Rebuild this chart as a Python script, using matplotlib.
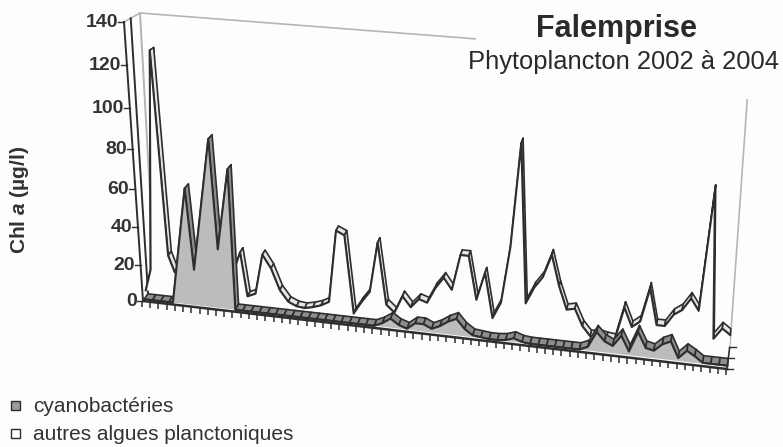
import numpy as np
import matplotlib
matplotlib.use("Agg")
import matplotlib.pyplot as plt
from matplotlib.patches import Polygon, Rectangle

plt.rcParams['font.family'] = ['Liberation Sans', 'DejaVu Sans']
plt.rcParams['mathtext.fontset'] = 'custom'
plt.rcParams['mathtext.bfit'] = 'Liberation Sans:italic:bold'

# valeurs
yticks = [0, 20, 40, 60, 80, 100, 120, 140]

jours_cyano = [0, 1, 2, 3, 3.5, 5.7, 6.3, 8.8, 9.3, 10.9, 11.1, 12, 13, 14, 15, 16, 17, 18, 19, 20,
               21, 22, 23, 24, 25, 26, 27] + list(range(28, 72))
cyano = [0, 0, 0, 0, 0, 62, 19.5, 88, 32, 74, 0, 0, 0, 0, 0, 0, 0, 0, 0, 0,
         0, 0, 0, 0, 0, 0, 0, 0,
         2, 5, 2, 0.5, 4, 4, 2, 4, 7, 9, 4, 1, 0.5, 0, 0, 0.5, 2, 0.5,
         0, 0, 0, 0, 0, 0, 0, 2, 10.5, 6, 4, 10, 2,
         13, 5, 4, 8, 10, 1.5, 6, 3.5, 0.5, 0.5, 0.5, 0.5]

jours_algues = [-0.5, 0.25, 1.7, 2.5, 3.2, 4, 5, 6, 7, 8, 9, 10, 11.3, 12] + list(range(13, 72))
algues = [0, 12, 125, 21, 12, 11, 11, 11, 11, 11, 11, 11, 27, 3, 5, 27, 20, 8.5, 2.5, 0.5, 0,
          1, 2.5, 5, 44, 42, 0, 7, 13, 40, 7, 3, 12.5, 7, 12, 10.5, 19, 25, 19, 38, 38,
          15, 30, 6, 15, 45, 97, 16, 25, 31, 43, 27, 15, 16, 7, 2, 3, 2, 1.5, 19.5, 9.5,
          13, 31, 12, 12, 18.5, 21.5, 28, 22, 83, 8, 14, 11]

NJ = 71.0
# coins du cube en pixels : (jour, valeur, profondeur)
COINS = {(0, 0, 0): (143, 301), (0, 1, 0): (124, 22), (1, 0, 0): (727, 369), (1, 1, 0): (748, 82),
         (0, 0, 1): (155, 283), (0, 1, 1): (140, 13), (1, 0, 1): (730, 345), (1, 1, 1): (750, 60)}


def hauteur(v):
    # perspective : les graduations s'ecartent vers le haut
    v = np.asarray(v, dtype=float)
    return (1.77 * v + 0.00149 * v ** 2) / 277.0


def proj(j, v, d):
    j, v, d = np.broadcast_arrays(np.asarray(j, float) / NJ, hauteur(v), np.asarray(d, float))
    x = 0.0
    y = 0.0
    for (a, b, c), (px, py) in COINS.items():
        w = (j if a else 1 - j) * (v if b else 1 - v) * (d if c else 1 - d)
        x = x + w * px
        y = y + w * py
    return np.column_stack([x, y])


fig = plt.figure(figsize=(7.83, 4.47), dpi=100, facecolor='#fdfdfd')
ax = fig.add_axes([0, 0, 1, 1])
ax.set_xlim(0, 783)
ax.set_ylim(447, 0)
ax.axis('off')

NOIR = '#2e2e2e'
GRIS_MUR = '#b5b5b5'

# murs du fond
ax.plot(*proj([0, 0], [0, 140], [1, 1]).T, color=GRIS_MUR, lw=1.4, zorder=1)
ax.plot(*proj([0, 39], [140, 140], [1, 1]).T, color=GRIS_MUR, lw=1.2, zorder=1)
ax.plot(*proj([71, 71], [0, 122], [1, 1]).T, color=GRIS_MUR, lw=1.2, zorder=1)
ax.plot(*proj([0, 0], [140, 140], [0, 1]).T, color=GRIS_MUR, lw=1.2, zorder=1)
ax.plot(*proj([0, 0], [0, 140], [0.42, 0.42]).T, color=NOIR, lw=1.4, zorder=1)


def serie(jours, valeurs, d1, d2, face, ruban, z):
    jours = np.array(jours, float)
    valeurs = np.array(valeurs, float)
    for k in range(len(jours) - 1):
        j = [jours[k], jours[k + 1], jours[k + 1], jours[k]]
        v = [valeurs[k], valeurs[k + 1], valeurs[k + 1], valeurs[k]]
        p = proj(j, v, [d1, d1, d2, d2])
        ax.add_patch(Polygon(p, closed=True, fc=ruban, ec=NOIR, lw=1.2, joinstyle='round', zorder=z))
    bas = proj(jours[::-1], np.zeros(len(jours)), d1)
    haut = proj(jours, valeurs, d1)
    ax.add_patch(Polygon(np.vstack([haut, bas]), closed=True, fc=face, ec='none', zorder=z + 1))
    ax.plot(haut[:, 0], haut[:, 1], color=NOIR, lw=1.5, zorder=z + 2)


serie(jours_algues, algues, 0.57, 0.83, '#fdfdfd', '#e6e6e6', 2)
serie(jours_cyano, cyano, 0.1, 0.4, '#bcbcbc', '#8e8e8e', 6)

# axe des abscisses et graduations
ax.plot(*proj([0, 71], [0, 0], [0, 0]).T, color=NOIR, lw=1.8, zorder=10)
base = proj(np.arange(72), np.zeros(72), 0)
ax.vlines(base[:, 0] - 1, base[:, 1], base[:, 1] + 6, color=NOIR, lw=1.1, zorder=10)
ax.plot(*proj([71, 71], [0, 0], [0, 0.9]).T, color=NOIR, lw=1.2, zorder=10)
for d in [0, 0.45, 0.9]:
    p = proj(71, 0, d)[0]
    ax.plot([p[0] - 1, p[0] + 6], [p[1], p[1]], color=NOIR, lw=1.0, zorder=10)

# axe des ordonnees
ax.plot(*proj([0, 0], [0, 140], [0, 0]).T, color=NOIR, lw=1.4, zorder=10)
for t in yticks:
    p = proj(0, t, 0)[0]
    ax.plot([p[0] - 6, p[0]], [p[1], p[1]], color=NOIR, lw=1.0, zorder=10)
    ax.text(p[0] - 6, p[1] + 0.5, str(t), ha='right', va='center', fontsize=14,
            fontweight='bold', color='#333333', zorder=11)

ax.text(617, 29, 'Falemprise', ha='center', va='center', fontsize=22, fontweight='bold', color='#2a2a2a')
ax.text(623, 62, 'Phytoplancton 2002 à 2004', ha='center', va='center', fontsize=18.4, color='#2a2a2a')
ax.text(20, 200, r'Chl $\mathbfit{a}$ (µg/l)', rotation=90, ha='center', va='center', fontsize=15,
        fontweight='bold', color='#333333')

# legende
ax.add_patch(Rectangle((11, 401), 9, 9, fc='#9a9a9a', ec=NOIR, lw=1.0))
ax.add_patch(Rectangle((11, 429), 9, 9, fc='#fdfdfd', ec=NOIR, lw=1.0))
ax.text(33, 406, 'cyanobactéries', va='center', fontsize=15, color='#333333')
ax.text(33, 434, 'autres algues planctoniques', va='center', fontsize=15, color='#333333')

fig.savefig('out.png', dpi=100, facecolor=fig.get_facecolor())
